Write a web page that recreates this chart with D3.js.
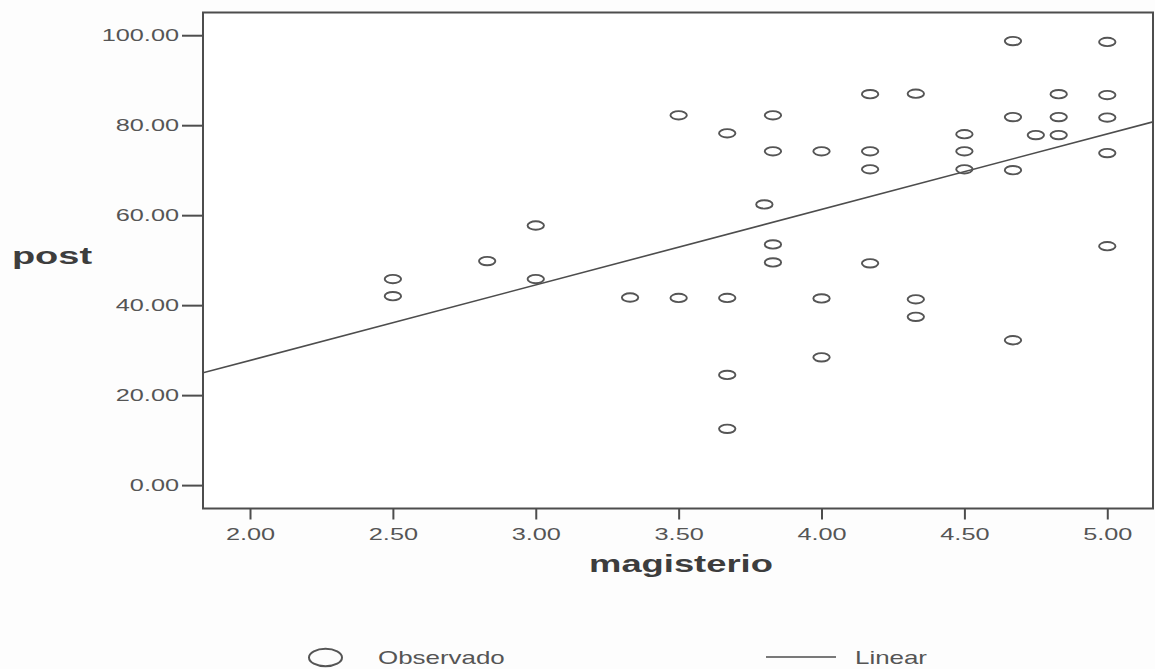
<!DOCTYPE html>
<html>
<head>
<meta charset="utf-8">
<script src="https://cdn.jsdelivr.net/npm/d3@7"></script>
<style>
  html, body { margin: 0; padding: 0; background: #fdfdfd; }
  svg { display: block; }
</style>
</head>
<body>
<svg id="chart" width="1155" height="669"></svg>
<script>
// ---- data ----
const magisterio = [
  2.50, 2.50,
  2.83,
  3.00, 3.00,
  3.33,
  3.50, 3.50,
  3.67, 3.67, 3.67, 3.67,
  3.80,
  3.83, 3.83, 3.83, 3.83,
  4.00, 4.00, 4.00,
  4.17, 4.17, 4.17, 4.17,
  4.33, 4.33, 4.33,
  4.50, 4.50, 4.50,
  4.67, 4.67, 4.67, 4.67,
  4.75,
  4.83, 4.83, 4.83,
  5.00, 5.00, 5.00, 5.00, 5.00
];
const post = [
  45.8, 42.0,
  49.8,
  57.7, 45.8,
  41.7,
  82.2, 41.6,
  78.2, 41.6, 24.5, 12.5,
  62.4,
  82.2, 74.2, 53.5, 49.5,
  74.2, 41.5, 28.4,
  86.9, 74.2, 70.2, 49.3,
  87.0, 41.3, 37.4,
  78.0, 74.2, 70.2,
  98.7, 81.8, 70.0, 32.2,
  77.8,
  86.9, 81.8, 77.8,
  98.5, 86.7, 81.7, 73.8, 53.1
];
const fitIntercept = -5.84;   // Linear fit line
const fitSlope = 16.78;
const xTicks = [2.00, 2.50, 3.00, 3.50, 4.00, 4.50, 5.00];
const yTicks = [0, 20, 40, 60, 80, 100];
const xTitle = "magisterio";
const yTitle = "post";
const legendLabels = ["Observado", "Linear"];

// ---- layout ----
const FONT = "'Liberation Sans', Arial, Helvetica, sans-serif";
const STRETCH = 1.58;
const frame = { left: 203, right: 1153, top: 12.5, bottom: 508.5 };
const ink = "#4d4d4d";

const svg = d3.select("#chart");

const x = d3.scaleLinear().domain([1.8355, 5.16]).range([frame.left, frame.right]);
const y = d3.scaleLinear().domain([-5.2, 105.05]).range([frame.bottom, frame.top]);

function stretch(sel, k) {
  sel.each(function () {
    const w = this.getComputedTextLength();
    d3.select(this).attr("textLength", w * k).attr("lengthAdjust", "spacingAndGlyphs");
  });
}

// frame
svg.append("rect")
  .attr("x", frame.left).attr("y", frame.top)
  .attr("width", frame.right - frame.left).attr("height", frame.bottom - frame.top)
  .attr("fill", "#ffffff").attr("stroke", ink).attr("stroke-width", 2);

// y axis
const gy = svg.append("g")
  .attr("transform", `translate(${frame.left},0)`)
  .call(d3.axisLeft(y).tickValues(yTicks).tickFormat(d3.format(".2f")).tickSize(21).tickPadding(3));
gy.select(".domain").remove();
gy.selectAll(".tick line").attr("stroke", ink).attr("stroke-width", 2);
gy.selectAll(".tick text").attr("fill", "#555").style("font-family", FONT).style("font-size", "16px")
  .call(stretch, STRETCH);

// x axis
const gx = svg.append("g")
  .attr("transform", `translate(0,${frame.bottom})`)
  .call(d3.axisBottom(x).tickValues(xTicks).tickFormat(d3.format(".2f")).tickSize(11).tickPadding(9));
gx.select(".domain").remove();
gx.selectAll(".tick line").attr("stroke", ink).attr("stroke-width", 2);
gx.selectAll(".tick text").attr("fill", "#555").style("font-family", FONT).style("font-size", "16px")
  .call(stretch, STRETCH);

// axis titles
svg.append("text")
  .attr("x", 681).attr("y", 571.5).attr("text-anchor", "middle")
  .attr("fill", "#3d3d3d").style("font-family", FONT).style("font-size", "23px").style("font-weight", "bold")
  .text(xTitle).call(stretch, STRETCH);
svg.append("text")
  .attr("x", 52).attr("y", 263.5).attr("text-anchor", "middle")
  .attr("fill", "#3d3d3d").style("font-family", FONT).style("font-size", "23px").style("font-weight", "bold")
  .text(yTitle).call(stretch, 1.65);

// clip for plot content
svg.append("clipPath").attr("id", "plotclip").append("rect")
  .attr("x", frame.left).attr("y", frame.top)
  .attr("width", frame.right - frame.left).attr("height", frame.bottom - frame.top);

const plot = svg.append("g").attr("clip-path", "url(#plotclip)");

// linear fit line
const xd = x.domain();
const fitPts = xd.map(v => [v, fitIntercept + fitSlope * v]);
plot.append("path")
  .attr("d", d3.line().x(d => x(d[0])).y(d => y(d[1]))(fitPts))
  .attr("fill", "none").attr("stroke", ink).attr("stroke-width", 1.6);

// observed points
const pts = magisterio.map((m, i) => ({ m, p: post[i] }));
plot.selectAll("ellipse.obs").data(pts).join("ellipse")
  .attr("class", "obs")
  .attr("cx", d => x(d.m)).attr("cy", d => y(d.p))
  .attr("rx", 8.2).attr("ry", 4.2)
  .attr("fill", "none").attr("stroke", "#555").attr("stroke-width", 1.9);

// legend
const lg = svg.append("g");
lg.append("ellipse")
  .attr("cx", 325.5).attr("cy", 657.5).attr("rx", 16.5).attr("ry", 8.8)
  .attr("fill", "none").attr("stroke", "#555").attr("stroke-width", 2);
lg.append("text")
  .attr("x", 378).attr("y", 663.5)
  .attr("fill", "#555").style("font-family", FONT).style("font-size", "18.5px")
  .text(legendLabels[0]).call(stretch, 1.4);
lg.append("line")
  .attr("x1", 766).attr("x2", 836).attr("y1", 657).attr("y2", 657)
  .attr("stroke", ink).attr("stroke-width", 1.6);
lg.append("text")
  .attr("x", 855).attr("y", 663.5)
  .attr("fill", "#555").style("font-family", FONT).style("font-size", "18.5px")
  .text(legendLabels[1]).call(stretch, 1.4);
</script>
</body>
</html>
